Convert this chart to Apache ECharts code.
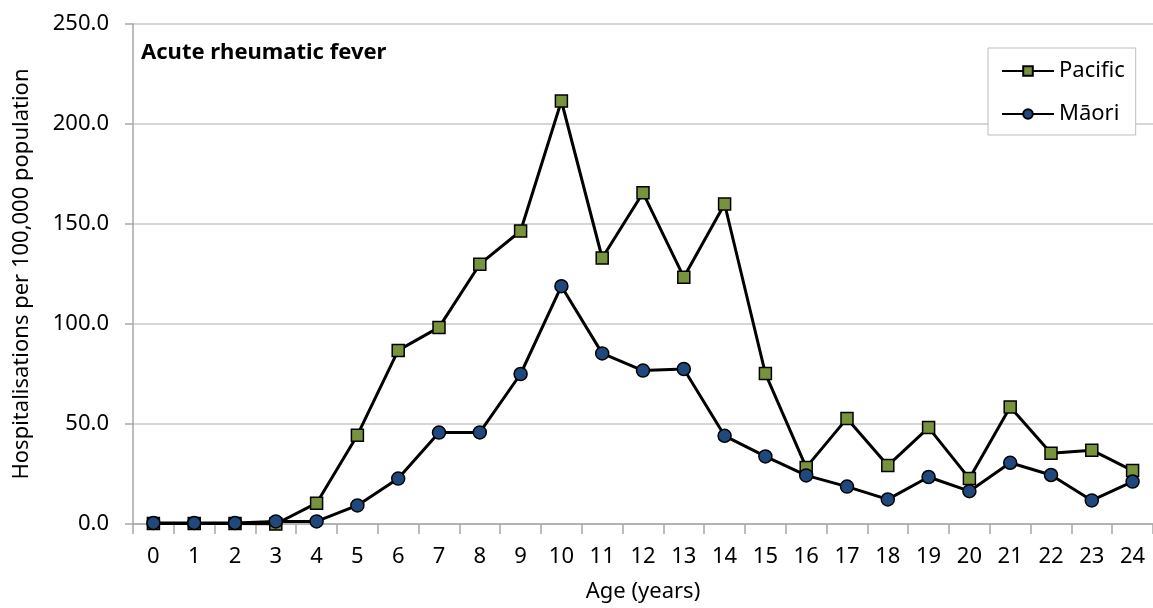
<!DOCTYPE html>
<html>
<head>
<meta charset="utf-8">
<script src="https://cdn.jsdelivr.net/npm/echarts@6/dist/echarts.min.js"></script>
<style>
html,body{margin:0;padding:0;background:#fff;}
#c{width:1153px;height:608px;}
</style>
</head>
<body>
<div id="c"></div>
<script>
var ages = ['0','1','2','3','4','5','6','7','8','9','10','11','12','13','14','15','16','17','18','19','20','21','22','23','24'];
var pacific = [0.3,0.3,0.3,0.0,10.4,44.4,86.8,98.3,129.9,146.5,211.5,133.0,165.6,123.4,160.0,75.2,28.3,52.8,29.2,48.2,22.7,58.5,35.4,36.9,26.7];
var maori = [0.5,0.5,0.5,1.3,1.3,9.3,22.7,45.7,45.8,75.0,118.9,85.3,76.7,77.5,44.1,33.8,24.3,18.7,12.3,23.5,16.4,30.6,24.5,11.8,21.2];
var yTicks = [0,50,100,150,200,250];

var FONT = '"Noto Sans", "Open Sans", sans-serif';
var FS = 22;
var chart = echarts.init(document.getElementById('c'), null, {renderer:'canvas'});
chart.setOption({
  animation:false,
  backgroundColor:'#ffffff',
  textStyle:{fontFamily:FONT},
  title:{
    text:'Acute rheumatic fever',
    left:141, top:42,
    padding:0,
    textStyle:{fontFamily:FONT, fontWeight:'bold', fontSize:FS, color:'#000'}
  },
  legend:{
    orient:'vertical',
    left:988, top:48,
    padding:[12,11,10,13],
    itemGap:21,
    itemWidth:52, itemHeight:12,
    backgroundColor:'#fff',
    borderColor:'#bdbdbd', borderWidth:1,
    textStyle:{fontFamily:FONT, fontSize:FS, color:'#000', lineHeight:22},
    data:['Pacific','Māori']
  },
  grid:{left:133, right:-3, top:24, bottom:81, containLabel:false},
  xAxis:{
    type:'category',
    data:ages,
    boundaryGap:true,
    name:'Age (years)',
    nameLocation:'middle',
    nameGap:57,
    nameTextStyle:{fontFamily:FONT, fontSize:FS, color:'#000'},
    axisLine:{lineStyle:{color:'#a6a6a6', width:1.5}},
    axisTick:{show:true, length:10, alignWithLabel:false, lineStyle:{color:'#a6a6a6', width:1.5}},
    axisLabel:{interval:0, margin:22, fontFamily:FONT, fontSize:FS, color:'#000'},
    splitLine:{show:false}
  },
  yAxis:{
    type:'value',
    min:yTicks[0], max:yTicks[yTicks.length-1], interval:50,
    name:'Hospitalisations per 100,000 population',
    nameLocation:'middle',
    nameGap:100,
    nameTextStyle:{fontFamily:FONT, fontSize:FS, color:'#000'},
    axisLine:{show:true, lineStyle:{color:'#a6a6a6', width:1.5}},
    axisTick:{show:true, length:8, lineStyle:{color:'#a6a6a6', width:1.5}},
    axisLabel:{margin:24, fontFamily:FONT, fontSize:FS, color:'#000', formatter:function(v){return v.toFixed(1);}},
    splitLine:{show:true, lineStyle:{color:'#c8c8c8', width:1.5}}
  },
  series:[
    {
      name:'Pacific', type:'line', data:pacific,
      symbol:'rect', symbolSize:12,
      lineStyle:{color:'#000', width:3},
      itemStyle:{color:'#77933c', borderColor:'#000', borderWidth:1.5},
      z:2
    },
    {
      name:'Māori', type:'line', data:maori,
      symbol:'circle', symbolSize:13,
      lineStyle:{color:'#000', width:3},
      itemStyle:{color:'#1f497d', borderColor:'#000', borderWidth:1.5},
      z:3
    }
  ]
});
</script>
</body>
</html>
